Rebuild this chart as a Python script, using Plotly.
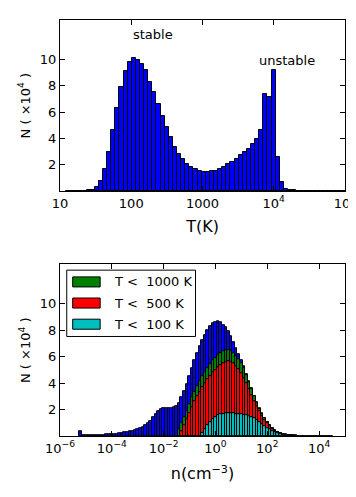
import numpy as np
import plotly.graph_objects as go

# ---- top panel: temperature histogram (log10 T bins), N in units of 1e4
t_bin_start = 1.085
t_bin_width = 0.0577
t_counts = [0.0, 0.0, 0.01, 0.02, 0.03,
            0.05, 0.1, 0.33, 0.76, 1.68, 2.97, 4.62, 6.3, 7.9, 9.09,
            9.78, 10.11, 9.98, 9.67, 9.2, 8.28, 7.49, 6.6, 5.71, 4.85,
            4.09, 3.37, 2.82, 2.41, 2.06, 1.85, 1.7, 1.55, 1.47, 1.47,
            1.5, 1.55, 1.67, 1.85, 2.03, 2.23, 2.44, 2.7, 2.95, 3.2,
            3.56, 3.96, 4.65, 7.4, 7.17, 9.2, 2.6, 0.7, 0.15,
            0.06, 0.04, 0.03, 0.03, 0.02, 0.02, 0.02, 0.01, 0.01, 0.01,
            0.01, 0.01, 0.01, 0.01]
t_ticks = [1, 2, 3, 4, 5]
t_ticktext = ["10", "100", "1000", "10<sup>4</sup>", "10<sup>5</sup>"]

# ---- bottom panel: density histograms (log10 n bins)
n_bin_start = -5.25
n_bin_width = 0.1
n_all = [0.36, 0.06, 0.05, 0.05, 0.05, 0.06, 0.06, 0.07, 0.08, 0.09,
         0.1, 0.11, 0.13, 0.15, 0.17, 0.2, 0.23, 0.26, 0.3, 0.35,
         0.4, 0.46, 0.53, 0.61, 0.7, 0.82, 0.96, 1.15, 1.4, 1.65,
         1.88, 2.0, 2.07, 2.1, 2.1, 2.1, 2.15, 2.25, 2.5, 2.9,
         3.4, 3.95, 4.5, 5.1, 5.7, 6.25, 6.8, 7.25, 7.65, 8.0,
         8.3, 8.5, 8.62, 8.65, 8.58, 8.42, 8.2, 7.9, 7.55, 7.1,
         6.65, 6.2, 5.75, 5.25, 4.7, 4.15, 3.6, 3.05, 2.55, 2.1,
         1.7, 1.35, 1.05, 0.8, 0.6, 0.44, 0.32, 0.22, 0.15, 0.1,
         0.07, 0.05, 0.035, 0.025, 0.018, 0.013, 0.01, 0.008, 0.006, 0.005,
         0.004, 0.003, 0.003, 0.002, 0.002, 0.001, 0.001, 0.001]

# first bin index (counted from n_bin_start) of each temperature cut
n_lt1000_first = 38
n_lt1000 = [0.55, 1.0, 1.45, 1.9, 2.4, 2.9, 3.3, 3.75, 4.15, 4.5,
            4.85, 5.15, 5.45, 5.7, 5.9, 6.1, 6.25, 6.38, 6.47, 6.5,
            6.42, 6.25, 6.05, 5.8, 5.5, 5.1, 4.6, 4.08, 3.52, 3.0,
            2.5, 2.06, 1.67, 1.33, 1.03, 0.79, 0.59, 0.43, 0.31, 0.21,
            0.14, 0.09, 0.06, 0.04, 0.03]
n_lt500_first = 39
n_lt500 = [0.35, 0.8, 1.25, 1.7, 2.15, 2.6, 3.0, 3.35, 3.7, 4.0,
           4.3, 4.55, 4.8, 5.0, 5.2, 5.38, 5.52, 5.62, 5.66, 5.62,
           5.5, 5.3, 5.05, 4.75, 4.4, 4.0, 3.55, 3.1, 2.65, 2.25,
           1.85, 1.5, 1.2, 0.95, 0.72, 0.54, 0.4, 0.29, 0.2, 0.13,
           0.085, 0.055, 0.035, 0.025]
n_lt100_first = 47
n_lt100 = [0.2, 0.5, 0.8, 1.05, 1.25, 1.42, 1.55, 1.63, 1.68, 1.7,
           1.7, 1.7, 1.69, 1.68, 1.66, 1.64, 1.6, 1.56, 1.5, 1.42,
           1.32, 1.2, 1.06, 0.92, 0.76, 0.62, 0.48, 0.36, 0.26, 0.18,
           0.12, 0.08, 0.05, 0.03]
n_ticks = [-6, -4, -2, 0, 2, 4]
n_ticktext = ["10<sup>\u22126</sup>", "10<sup>\u22124</sup>", "10<sup>\u22122</sup>",
              "10<sup>0</sup>", "10<sup>2</sup>", "10<sup>4</sup>"]

legend_labels = ["T &lt;\u00a0 1000 K", "T &lt;\u00a0 500 K", "T &lt;\u00a0 100 K"]
colors = ["#008000", "#ff0000", "#00bfbf"]


def centers(start, width, first, n):
    return start + width * (first + np.arange(n) + 0.5)


def hist_bar(x, y, width, color, xa, ya):
    return go.Bar(x=x, y=y, width=width, xaxis=xa, yaxis=ya,
                  marker=dict(color=color, line=dict(color="black", width=1)))


fig = go.Figure()
fig.add_trace(hist_bar(centers(t_bin_start, t_bin_width, 0, len(t_counts)), t_counts,
                       t_bin_width, "#0000ff", "x", "y"))
fig.add_trace(hist_bar(centers(n_bin_start, n_bin_width, 0, len(n_all)), n_all,
                       n_bin_width, "#0000ff", "x2", "y2"))
for first, vals, col in [(n_lt1000_first, n_lt1000, colors[0]),
                         (n_lt500_first, n_lt500, colors[1]),
                         (n_lt100_first, n_lt100, colors[2])]:
    fig.add_trace(hist_bar(centers(n_bin_start, n_bin_width, first, len(vals)), vals,
                           n_bin_width, col, "x2", "y2"))

axis_style = dict(showline=True, linecolor="black", linewidth=1, mirror="allticks",
                  ticks="inside", ticklen=5, tickcolor="black", showgrid=False,
                  zeroline=False, automargin=False, ticklabeloverflow="allow")
ytitle = "N ( \u00d710<sup>4</sup> )"

# the page body keeps an 8px margin, so the figure is 8px smaller than the window
fig.update_layout(
    width=348, height=489,
    margin=dict(l=52, r=11, t=12, b=61),
    plot_bgcolor="white", paper_bgcolor="white",
    font=dict(family="DejaVu Sans", size=13, color="black"),
    barmode="overlay", bargap=0, showlegend=False,
    xaxis=dict(axis_style, domain=[0, 1], anchor="y", range=[1, 5.0005],
               tickvals=t_ticks, ticktext=t_ticktext,
               title=dict(text="T(K)", standoff=11)),
    yaxis=dict(axis_style, domain=[0.589, 1], anchor="x", range=[0, 13],
               tickvals=[2, 4, 6, 8, 10]),
    xaxis2=dict(axis_style, domain=[0, 1], anchor="y2", range=[-6, 5],
                tickvals=n_ticks, ticktext=n_ticktext,
                title=dict(text="n(cm<sup>\u22123</sup>)", standoff=13)),
    yaxis2=dict(axis_style, domain=[0, 0.413], anchor="x2", range=[0, 13],
                tickvals=[2, 4, 6, 8, 10]),
)

# y titles as rotated annotations, placed left of the tick labels
for yref in ["y domain", "y2 domain"]:
    fig.add_annotation(x=-0.123, y=0.5, xref="paper", yref=yref, text=ytitle,
                       textangle=-90, showarrow=False, xanchor="center", yanchor="middle")

fig.add_annotation(x=2.30, y=11.93, xref="x", yref="y", text="stable", showarrow=False)
fig.add_annotation(x=4.19, y=9.92, xref="x", yref="y", text="unstable", showarrow=False)

# legend box drawn inside the lower panel
fig.add_shape(type="rect", xref="x2", yref="y2", x0=-5.74, x1=-0.77, y0=7.53, y1=12.55,
              line=dict(color="black", width=1), fillcolor="white")
for k, (lab, col) in enumerate(zip(legend_labels, colors)):
    yc = 11.66 - k * 1.6
    fig.add_shape(type="rect", xref="x2", yref="y2", x0=-5.51, x1=-4.45,
                  y0=yc - 0.38, y1=yc + 0.38, line=dict(color="black", width=1),
                  fillcolor=col)
    fig.add_annotation(x=-3.99, y=yc, xref="x2", yref="y2", text=lab, showarrow=False,
                       xanchor="left")

fig.write_html("out.html")
